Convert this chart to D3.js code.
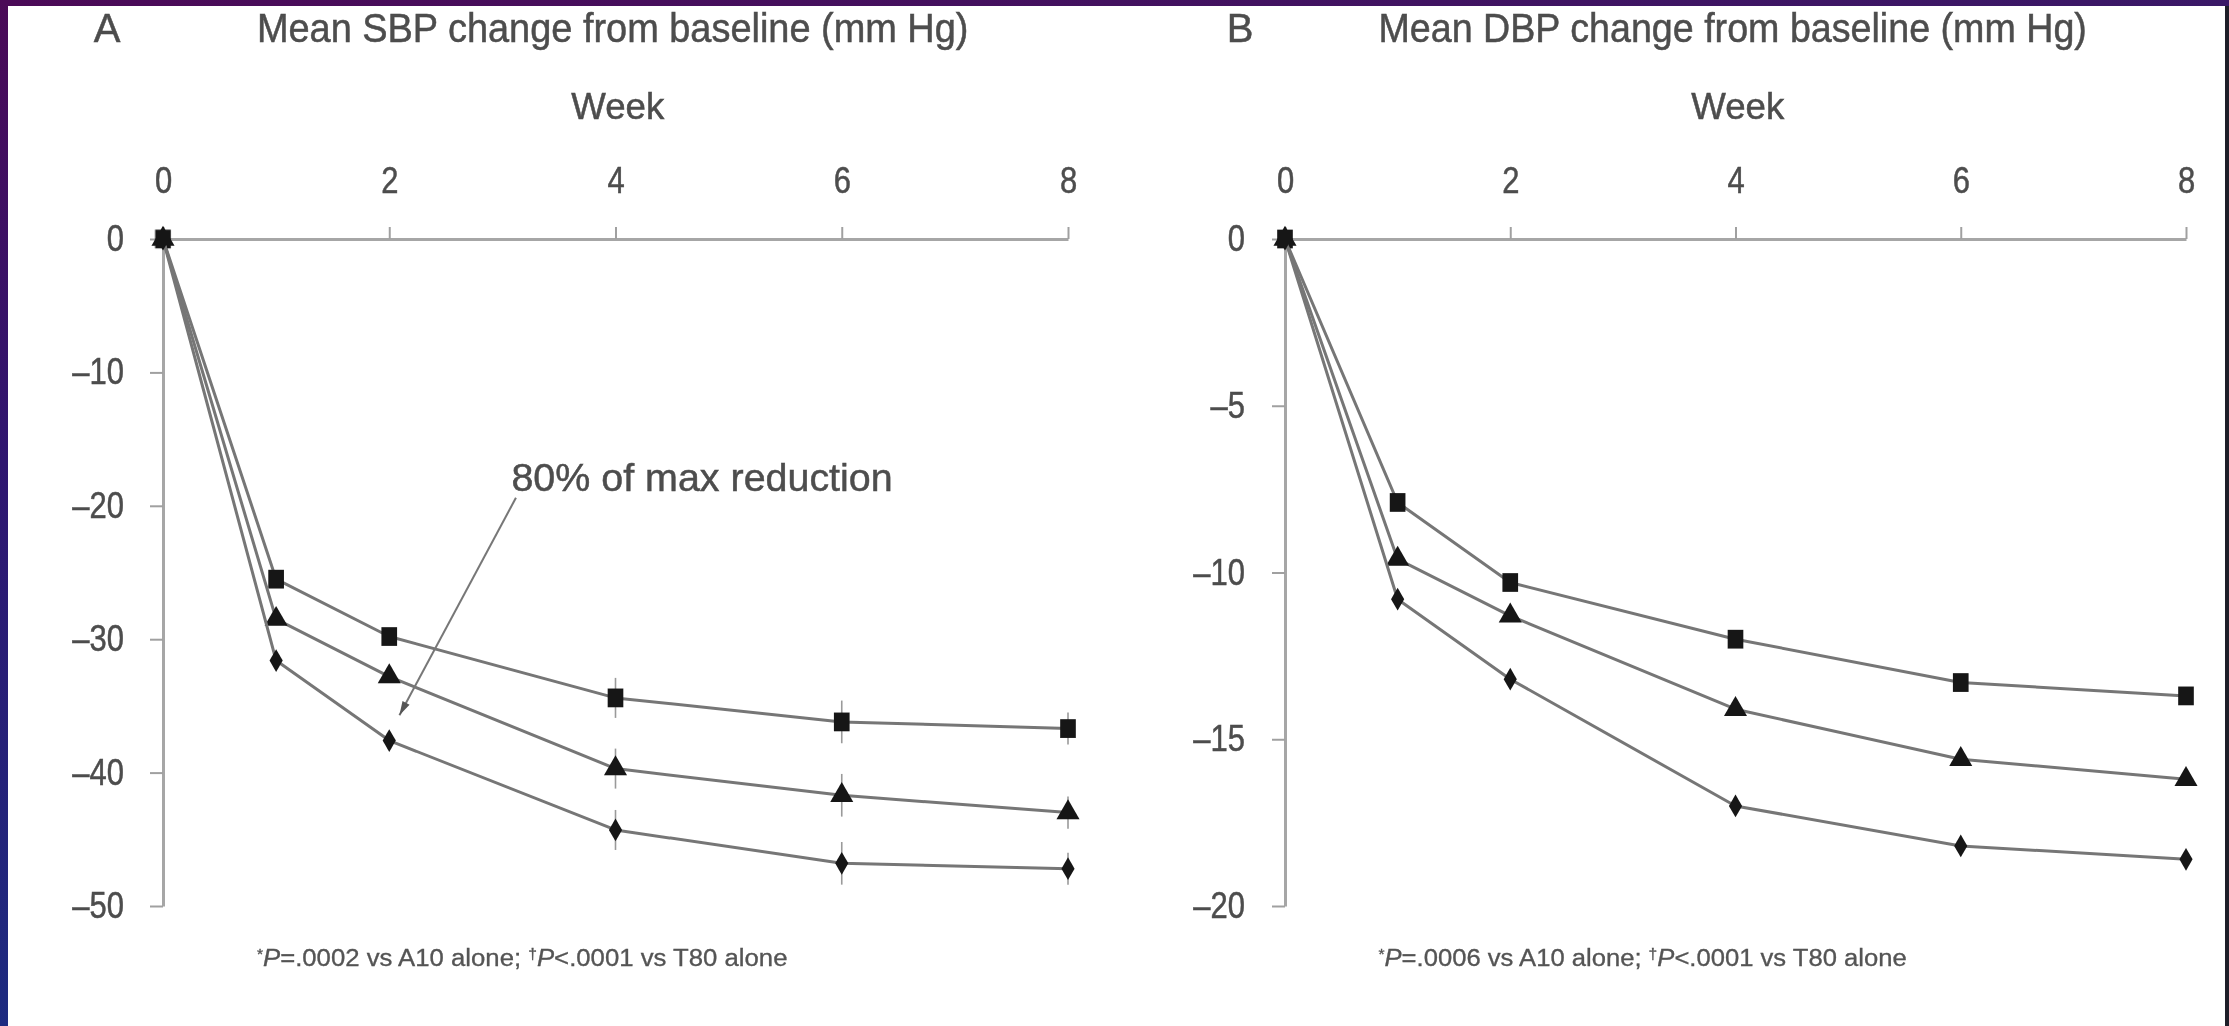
<!DOCTYPE html>
<html>
<head>
<meta charset="utf-8">
<script src="https://cdn.jsdelivr.net/npm/d3@7"></script>
<style>
body { margin: 0; background: #fff; }
svg { display: block; }
text { font-family: "Liberation Sans", Arial, sans-serif; stroke: #4d4d4d; stroke-width: 0.5; }
</style>
</head>
<body>
<svg id="chart" width="2229" height="1026"></svg>
<script>
// data (mm Hg)
const weeks = [0, 1, 2, 4, 6, 8];
const week_ticks = [0, 2, 4, 6, 8];

const sbp_square = [0, -25.5, -29.8, -34.4, -36.2, -36.7];
const sbp_triangle = [0, -28.5, -32.8, -39.7, -41.7, -43.0];
const sbp_diamond = [0, -31.6, -37.6, -44.3, -46.8, -47.2];
const sbp_err = [0, 0, 0, 1.2, 1.3, 0.9];
const sbp_ticks = [0, -10, -20, -30, -40, -50];

const dbp_square = [0, -7.9, -10.3, -12.0, -13.3, -13.7];
const dbp_triangle = [0, -9.6, -11.3, -14.1, -15.6, -16.2];
const dbp_diamond = [0, -10.8, -13.2, -17.0, -18.2, -18.6];
const dbp_err = [0, 0, 0, 0, 0, 0];
const dbp_ticks = [0, -5, -10, -15, -20];

// annotation in panel A: [week, value] from -> to
const note_text = "80% of max reduction";
const note_pos = [3.08, -17.9];
const note_arrow = [[3.12, -19.4], [2.09, -35.7]];

const text_col = "#4d4d4d";
const svg = d3.select("#chart");

/* page frame: purple strip on top, gradient strip on left, dark edge right */
let defs = svg.append("defs");
let gTop = defs.append("linearGradient").attr("id", "gtop");
gTop.append("stop").attr("offset", "0").attr("stop-color", "#4b0a57");
gTop.append("stop").attr("offset", "1").attr("stop-color", "#3a1867");
let gLeft = defs.append("linearGradient").attr("id", "gleft").attr("x1", 0).attr("y1", 0).attr("x2", 0).attr("y2", 1);
gLeft.append("stop").attr("offset", "0").attr("stop-color", "#4b0a57");
gLeft.append("stop").attr("offset", "0.45").attr("stop-color", "#2f1670");
gLeft.append("stop").attr("offset", "1").attr("stop-color", "#1d2b80");
defs.append("filter").attr("id", "soft").append("feGaussianBlur").attr("stdDeviation", 0.7);
svg.append("rect").attr("width", 2229).attr("height", 1026).attr("fill", "#fff");
svg.append("rect").attr("x", 0).attr("y", 0).attr("width", 2229).attr("height", 6).attr("fill", "url(#gtop)");
svg.append("rect").attr("x", 0).attr("y", 0).attr("width", 8).attr("height", 1026).attr("fill", "url(#gleft)");
svg.append("rect").attr("x", 2225).attr("y", 6).attr("width", 4).attr("height", 1020).attr("fill", "#1e1e28");

const symSquare = d3.symbol().type(d3.symbolSquare).size(290);
const symTriangle = d3.symbol().type(d3.symbolTriangle).size(230);
const symDiamond = d3.symbol().type(d3.symbolDiamond).size(150);

function fmtTick(d) {
	return d === 0 ? "0" : "\u2013" + Math.abs(d);
}

// squeeze text horizontally, the figure uses a narrow face
function narrow(sel, k) {
	sel.each(function() {
		let w = this.getComputedTextLength();
		d3.select(this).attr("textLength", w * k).attr("lengthAdjust", "spacingAndGlyphs");
	});
}

function drawPanel(p) {
	let x = d3.scaleLinear().domain([0, 8]).range([p.left, p.right]);
	let y = d3.scaleLinear().domain([0, p.ymin]).range([239, 906]);
	let g = svg.append("g").attr("filter", "url(#soft)");

	// letter + title
	g.append("text").attr("x", p.letterX).attr("y", 42).attr("text-anchor", "middle")
		.attr("font-size", 40).attr("fill", text_col).text(p.letter);
	g.append("text").attr("x", x(0.83)).attr("y", 42)
		.attr("font-size", 40).attr("fill", text_col)
		.attr("textLength", x(7.12) - x(0.83)).attr("lengthAdjust", "spacingAndGlyphs")
		.text(p.title);
	g.append("text").attr("x", x(4.02)).attr("y", 119).attr("text-anchor", "middle")
		.attr("font-size", 36).attr("fill", text_col)
		.attr("textLength", 93).attr("lengthAdjust", "spacingAndGlyphs")
		.text("Week");

	// axes
	let xaxis = g.append("g").attr("transform", "translate(0,239)")
		.call(d3.axisTop(x).tickValues(week_ticks).tickSize(12).tickSizeOuter(0).tickPadding(34));
	let yaxis = g.append("g").attr("transform", `translate(${p.left},0)`)
		.call(d3.axisLeft(y).tickValues(p.ticks).tickSize(13).tickSizeOuter(0).tickPadding(p.ypad).tickFormat(fmtTick));
	[xaxis, yaxis].forEach(a => {
		a.attr("font-size", 36).attr("font-family", null).attr("color", "#4d4d4d");
		a.select(".domain").attr("stroke", "#a6a6a6").attr("stroke-width", 3);
		a.selectAll(".tick line").attr("stroke", "#a0a0a0").attr("stroke-width", 2);
		narrow(a.selectAll(".tick text"), 0.86);
	});

	let line = d3.line().x(d => x(d.week)).y(d => y(d.value));

	p.series.forEach(s => {
		let pts = weeks.map((w, i) => ({ week: w, value: s.values[i], err: p.err[i] }));
		g.append("path").attr("d", line(pts)).attr("fill", "none")
			.attr("stroke", "#767676").attr("stroke-width", 3).attr("stroke-linejoin", "round");
		g.selectAll(null).data(pts.filter(d => d.err > 0)).enter().append("line")
			.attr("x1", d => x(d.week)).attr("x2", d => x(d.week))
			.attr("y1", d => y(d.value + d.err) - 4).attr("y2", d => y(d.value - d.err) + 4)
			.attr("stroke", "#9a9a9a").attr("stroke-width", 1.6);
		g.selectAll(null).data(pts).enter().append("path")
			.attr("d", s.sym)
			.attr("transform", d => `translate(${x(d.week)},${y(d.value)}) scale(${s.sx},${s.sy})`)
			.attr("fill", "#151515");
	});

	if (p.note) {
		g.append("text").attr("x", x(note_pos[0])).attr("y", y(note_pos[1]))
			.attr("dominant-baseline", "central").attr("font-size", 39).attr("fill", text_col)
			.attr("textLength", x(6.45) - x(3.08)).attr("lengthAdjust", "spacingAndGlyphs")
			.text(note_text);
		let a0 = [x(note_arrow[0][0]), y(note_arrow[0][1])];
		let a1 = [x(note_arrow[1][0]), y(note_arrow[1][1])];
		g.append("line").attr("x1", a0[0]).attr("y1", a0[1]).attr("x2", a1[0]).attr("y2", a1[1])
			.attr("stroke", "#777").attr("stroke-width", 2);
		let ang = Math.atan2(a1[1] - a0[1], a1[0] - a0[0]);
		let hl = 14, hw = 4;
		let bx = a1[0] - hl * Math.cos(ang), by = a1[1] - hl * Math.sin(ang);
		g.append("path").attr("fill", "#555")
			.attr("d", `M${a1[0]},${a1[1]}L${bx - hw * Math.sin(ang)},${by + hw * Math.cos(ang)}L${bx + hw * Math.sin(ang)},${by - hw * Math.cos(ang)}Z`);
	}

	// footnote
	let fn = g.append("text").attr("x", x(0.83)).attr("y", 966)
		.attr("font-size", 23).attr("fill", "#555").style("stroke-width", 0.3)
		.attr("textLength", x(5.52) - x(0.83)).attr("lengthAdjust", "spacingAndGlyphs");
	fn.append("tspan").attr("font-size", 14).attr("dy", -7).text("*");
	fn.append("tspan").attr("font-style", "italic").attr("dy", 7).text("P");
	fn.append("tspan").text("=." + p.pval + " vs A10 alone; ");
	fn.append("tspan").attr("font-size", 14).attr("dy", -7).text("\u2020");
	fn.append("tspan").attr("font-style", "italic").attr("dy", 7).text("P");
	fn.append("tspan").text("<.0001 vs T80 alone");
}

drawPanel({
	letter: "A", letterX: 107, title: "Mean SBP change from baseline (mm Hg)",
	left: 163, right: 1068, ymin: -50, ticks: sbp_ticks, ypad: 26, err: sbp_err, note: true, pval: "0002",
	series: [
		{ values: sbp_square, sym: symSquare, sx: 0.92, sy: 1.1 },
		{ values: sbp_triangle, sym: symTriangle, sx: 1, sy: 1 },
		{ values: sbp_diamond, sym: symDiamond, sx: 1, sy: 1 }
	]
});

drawPanel({
	letter: "B", letterX: 1240, title: "Mean DBP change from baseline (mm Hg)",
	left: 1285, right: 2186, ymin: -20, ticks: dbp_ticks, ypad: 27, err: dbp_err, note: false, pval: "0006",
	series: [
		{ values: dbp_square, sym: symSquare, sx: 0.92, sy: 1.1 },
		{ values: dbp_triangle, sym: symTriangle, sx: 1, sy: 1 },
		{ values: dbp_diamond, sym: symDiamond, sx: 1, sy: 1 }
	]
});
</script>
</body>
</html>
